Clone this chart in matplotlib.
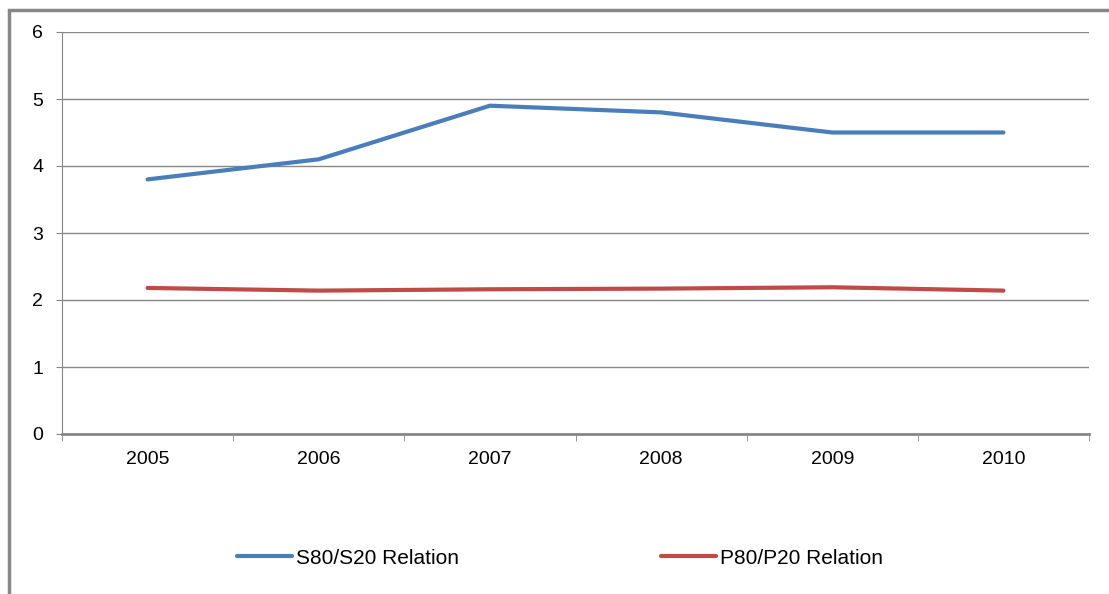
import matplotlib.pyplot as plt
from matplotlib.patches import Rectangle

years = ['2005', '2006', '2007', '2008', '2009', '2010']
s80_s20 = [3.8, 4.1, 4.9, 4.8, 4.5, 4.5]
p80_p20 = [2.18, 2.14, 2.16, 2.17, 2.19, 2.14]

W, H = 1109, 594
GRAY = '#878787'

plt.rcParams['font.family'] = ['Liberation Sans', 'DejaVu Sans']

fig = plt.figure(figsize=(W / 100, H / 100), dpi=100)
ax = fig.add_axes([62 / W, 1 - 434 / H, (1089 - 62) / W, (434 - 32) / H])

x = list(range(len(years)))
ax.plot(x, s80_s20, color='#4a7ebb', lw=3.0, solid_capstyle='round', label='S80/S20 Relation')
ax.plot(x, p80_p20, color='#be4b48', lw=3.0, solid_capstyle='round', label='P80/P20 Relation')

ax.set_xlim(-0.5, len(years) - 0.5)
ax.set_ylim(0, 6)
ax.set_yticks(range(7))
ax.yaxis.grid(True, color=GRAY, lw=1)
ax.set_axisbelow(True)

ax.set_xticks(x)
ax.set_xticklabels(years, fontsize=14)
ax.set_xticks([i - 0.5 for i in range(len(years) + 1)], minor=True)
ax.tick_params(axis='x', which='major', length=0, pad=12)
ax.tick_params(axis='x', which='minor', length=5, color=GRAY, direction='out')
ax.tick_params(axis='y', length=4.5, color=GRAY, labelsize=14, pad=9)

for side in ['top', 'right']:
    ax.spines[side].set_visible(False)
ax.spines['left'].set_color(GRAY)
ax.spines['bottom'].set_color(GRAY)
ax.spines['bottom'].set_linewidth(2)

h, l = ax.get_legend_handles_labels()
fig.legend(h, l, loc='center', bbox_to_anchor=(560 / W, 1 - 558 / H), ncol=2,
           frameon=False, fontsize=15, handlelength=2.65, handletextpad=0.2,
           columnspacing=9.7)

# outer chart frame (cut off at right and bottom)
fig.patches.append(Rectangle((9 / W, -0.1), 1.2, 1 - 10 / H + 0.1, transform=fig.transFigure,
                             fill=False, edgecolor=GRAY, lw=2.5))

fig.savefig('out.png', dpi=100)
